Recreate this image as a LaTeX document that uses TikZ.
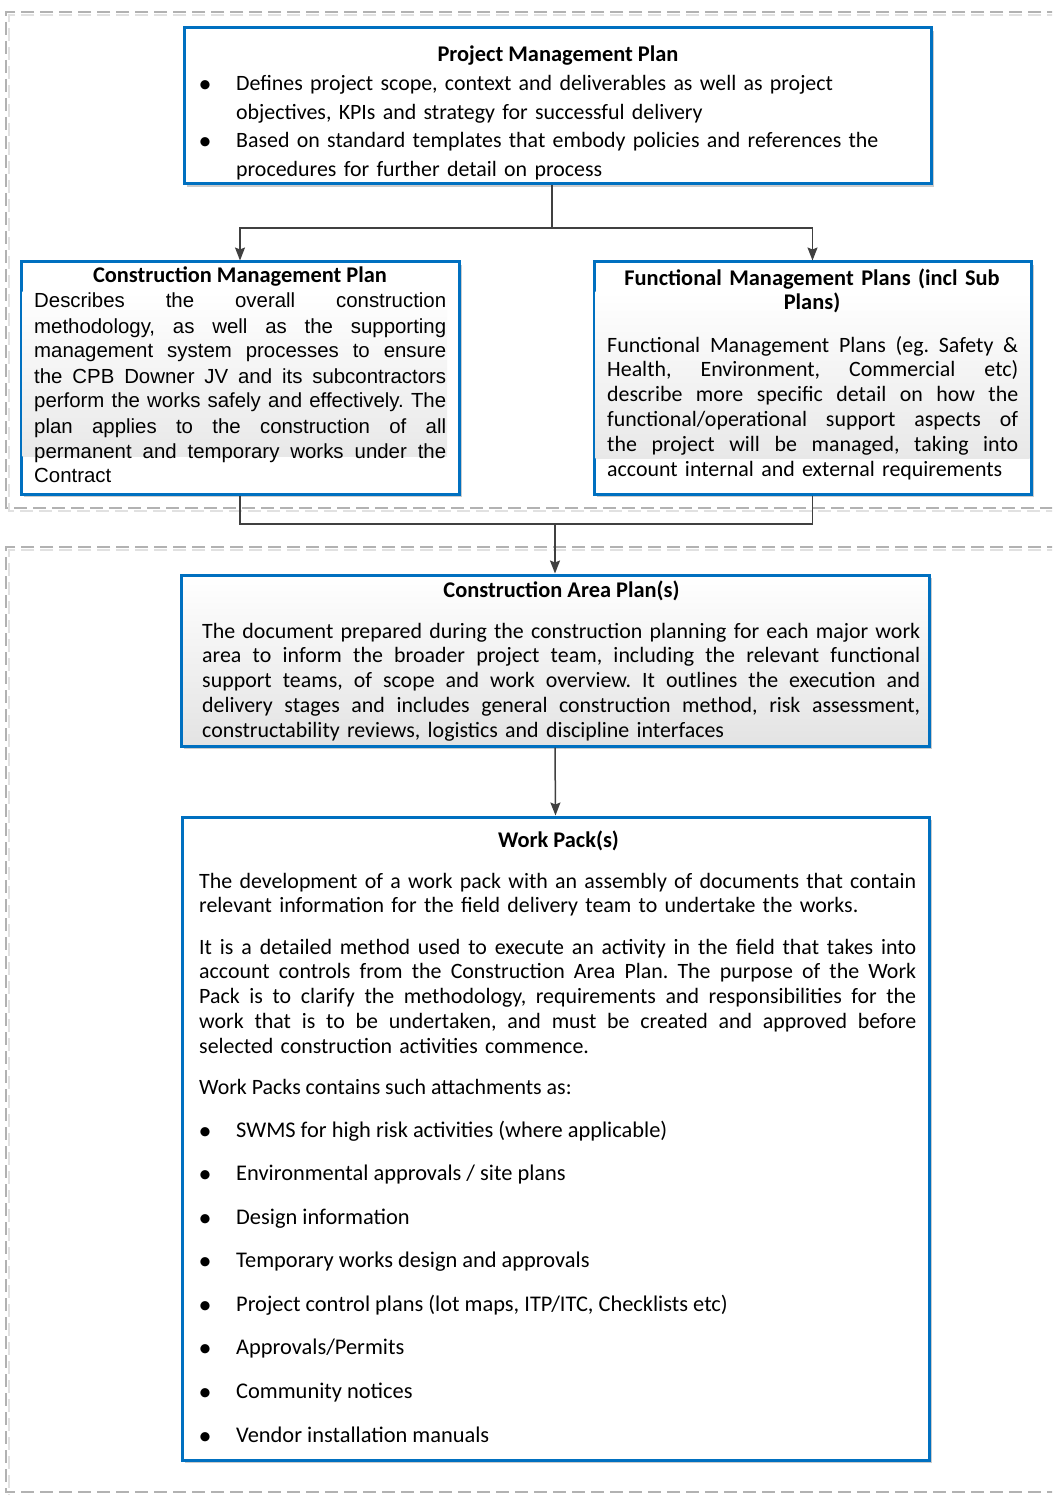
\documentclass[tikz,border=0pt]{standalone}
\usepackage{fontspec}
\setmainfont{Carlito}
\newfontfamily\arialf{Liberation Sans}
\usetikzlibrary{arrows.meta,shadows,calc}
\definecolor{boxblue}{RGB}{0,112,192}
\definecolor{conncol}{RGB}{64,64,64}
\definecolor{framecol}{RGB}{178,178,178}
\definecolor{frameshd}{RGB}{225,225,225}
\newcommand\jl[1]{\leavevmode\hbox to \hsize{\spaceskip=0.24em plus 2em minus 0.1em\relax #1}}
\frenchspacing
\begin{document}
\begin{tikzpicture}[x=1pt,y=-1pt,
  every node/.style={inner sep=0pt, font=\fontsize{22.4}{24.8}\selectfont\frenchspacing},
  box/.style={draw=boxblue, line width=3pt, fill=white,
    drop shadow={shadow xshift=3pt, shadow yshift=-3pt, fill=black!45, opacity=.45}},
  titletext/.style={anchor=base, font=\fontsize{22.4}{24}\selectfont\bfseries, align=center},
  bodytext/.style={anchor=base west, align=left, font=\fontsize{21.9}{24.8}\selectfont\frenchspacing},
  bul/.style={anchor=base, font=\fontsize{26}{26}\selectfont},
  frame/.style={draw=framecol, line width=2pt, dash pattern=on 13pt off 6pt},
  frameshadow/.style={draw=frameshd, line width=2pt, dash pattern=on 13pt off 6pt},
  conn/.style={draw=conncol, line width=1.5pt},
  arr/.style={conn, -{Stealth[length=13pt,width=10pt,inset=2pt]}}]
\useasboundingbox (0,0) rectangle (1052,1495);
\clip (0,0) rectangle (1052,1495);
\fill[white] (0,0) rectangle (1052,1495);
% dashed frames
\draw[frameshadow] (1060,15) -- (9,15) -- (9,511) -- (1060,511);
\draw[frame] (1060,12) -- (6,12) -- (6,508) -- (1060,508);
\draw[frameshadow] (1060,550) -- (9,550) -- (9,1495);
\draw[frame] (1060,547) -- (6,547) -- (6,1492) -- (1060,1492);
% boxes
\node[box, minimum width=747pt, minimum height=156pt] (pmp) at (557.5,106) {};
\node[box, minimum width=438pt, minimum height=232pt] (cmp) at (240,378) {};
\node[box, minimum width=437pt, minimum height=232pt] (fmp) at (812.5,378) {};
\node[box, minimum width=748pt, minimum height=171pt, top color=white, bottom color=black!11] (cap) at (555,660.5) {};
\node[box, minimum width=747pt, minimum height=643pt] (wp) at (555.5,1138.5) {};
\fill[top color=white, bottom color=black!9] (22.5,292) rectangle (447,456);
\fill[top color=white, bottom color=black!9] (595.5,292) rectangle (1029.5,458);
% connectors
\coordinate (j1) at (552,228);
\coordinate (j2) at (555,524);
\draw[conn] (pmp.south -| j1) -- (j1);
\draw[arr] (j1) -| (cmp.north);
\draw[arr] (j1) -| (fmp.north);
\draw[conn] (cmp.south) |- (j2);
\draw[conn] (fmp.south) |- (j2);
\draw[arr] (j2) -- (cap.north);
\draw[arr] (cap.south) -- (wp.north);
% Project Management Plan
\node[titletext] (pmpt) at (558,62) {Project Management Plan};
\node[bul] (pmpb1) at (205,93) {\textbullet};
\node[bodytext, text width=680pt, font=\fontsize{21.9}{28.3}\selectfont] (pmpx1) at (236,91)
  {Defines project scope, context and deliverables as well as project\\objectives, KPIs and strategy for successful delivery};
\node[bul] (pmpb2) at (205,150) {\textbullet};
\node[bodytext, text width=680pt, font=\fontsize{21.9}{28.3}\selectfont] (pmpx2) at (236,148)
  {Based on standard templates that embody policies and references the\\procedures for further detail on process};
% Construction Management Plan
\node[titletext] (cmpt) at (240,283) {Construction Management Plan};
\node[bodytext, text width=412pt, font=\arialf\fontsize{20.4}{25}\selectfont] (cmpx) at (34,308)
  {\jl{Describes the overall construction}\\
   \jl{methodology, as well as the supporting}\\
   \jl{management system processes to ensure}\\
   \jl{the CPB Downer JV and its subcontractors}\\
   \jl{perform the works safely and effectively. The}\\
   \jl{plan applies to the construction of all}\\
   \jl{permanent and temporary works under the}\\
   Contract};
% Functional Management Plans
\node[titletext, text width=420pt] (fmpt) at (812,286) {Functional Management Plans (incl Sub\\Plans)};
\node[bodytext, text width=411pt] (fmpx) at (607,352)
  {\jl{Functional Management Plans (eg. Safety \&}\\
   \jl{Health, Environment, Commercial etc)}\\
   \jl{describe more specific detail on how the}\\
   \jl{functional/operational support aspects of}\\
   \jl{the project will be managed, taking into}\\
   account internal and external requirements};
% Construction Area Plan
\node[titletext] (capt) at (561.5,597) {Construction Area Plan(s)};
\node[bodytext, text width=718pt] (capx) at (202,638)
  {\jl{The document prepared during the construction planning for each major work}\\
   \jl{area to inform the broader project team, including the relevant functional}\\
   \jl{support teams, of scope and work overview. It outlines the execution and}\\
   \jl{delivery stages and includes general construction method, risk assessment,}\\
   constructability reviews, logistics and discipline interfaces};
% Work Packs
\node[titletext] (wpt) at (558.5,847) {Work Pack(s)};
\node[bodytext, text width=717pt] (wpx1) at (199,888)
  {\jl{The development of a work pack with an assembly of documents that contain}\\
   relevant information for the field delivery team to undertake the works.};
\node[bodytext, text width=717pt] (wpx2) at (199,954)
  {\jl{It is a detailed method used to execute an activity in the field that takes into}\\
   \jl{account controls from the Construction Area Plan. The purpose of the Work}\\
   \jl{Pack is to clarify the methodology, requirements and responsibilities for the}\\
   \jl{work that is to be undertaken, and must be created and approved before}\\
   selected construction activities commence.};
\node[bodytext] (wpx3) at (199,1094) {Work Packs contains such attachments as:};
\foreach \t [count=\i] in {{SWMS for high risk activities (where applicable)},
  {Environmental approvals / site plans},
  {Design information},
  {Temporary works design and approvals},
  {Project control plans (lot maps, ITP/ITC, Checklists etc)},
  {Approvals/Permits},
  {Community notices},
  {Vendor installation manuals}}{
  \node[bul] (wpb\i) at (205,{1139+43.57*(\i-1)}) {\textbullet};
  \node[bodytext, font=\fontsize{22.4}{24.8}\selectfont] (wpl\i) at (236,{1137+43.57*(\i-1)}) {\t};
}
\end{tikzpicture}
\end{document}
